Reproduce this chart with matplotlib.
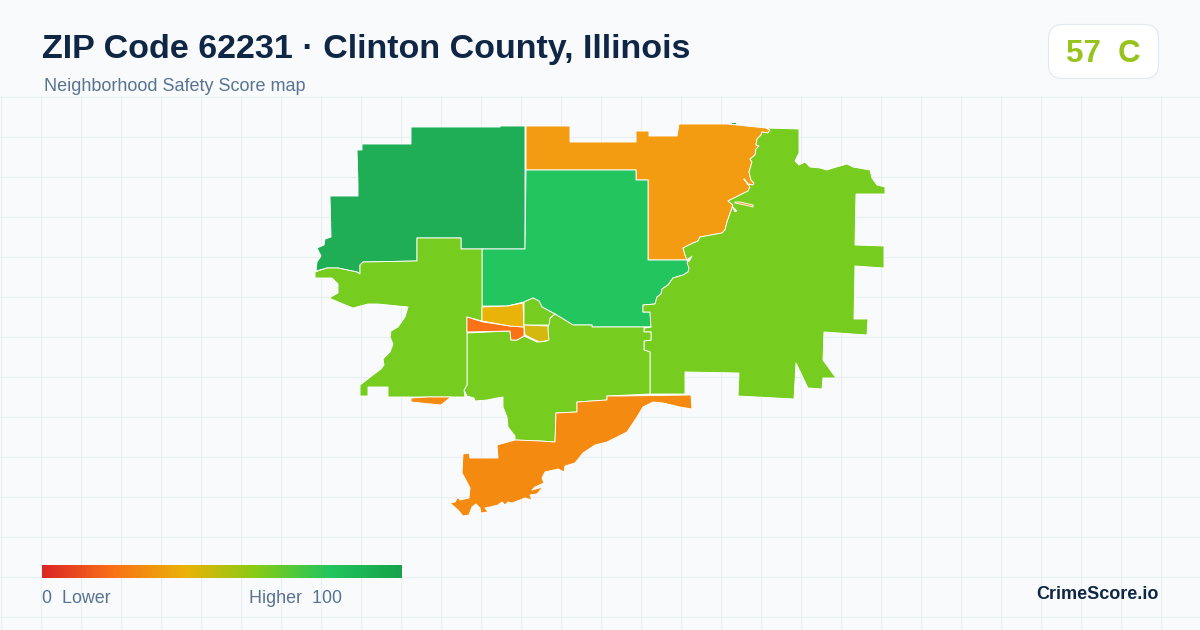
import numpy as np
import matplotlib
matplotlib.use("Agg")
import matplotlib.pyplot as plt
from matplotlib.colors import LinearSegmentedColormap
from matplotlib.patches import FancyBboxPatch, Polygon

plt.rcParams["font.family"] = ["Liberation Sans", "DejaVu Sans"]

title = "ZIP Code 62231 · Clinton County, Illinois"
subtitle = "Neighborhood Safety Score map"
badge = "57  C"
brand = "CrimeScore.io"

# shared borders (pixel coords)
river = [(766,128),(770,130),(768,133),(762,132),(761,135),(757,139),(756,145),(759,146),(756,149),(755,155),
    (750,159),(752,162),(749,172),(751,180),(754,183),(753,185),(748,184),(744,179),(750,187),(748,191),
    (728,201),(733,205),(727,222),(725,230),(722,233),(700,237),(698,241),(693,243),(683,248),(685,255),(687,260)]
creek = [(692,256),(690,260),(687,263),(689,268),(688,272),(683,275),(673,278),(668,285),(662,289),(661,294),
    (657,297),(655,304),(643,305),(643,312),(650,312),(651,327)]
town_edge = [(555,314),(542,307),(539,301),(533,298),(524,302)]
south_coast = [(691,395),(692,409),(680,407),(663,403),(653,402),(643,407),(637,417),(627,432),(607,442),(595,445),
    (583,453),(575,463),(565,466),(564,472),(558,469),(545,472),(542,478),(544,483),(535,487),(532,490),(543,487),
    (537,494),(530,495),(532,500),(525,498),(520,500),(512,503),(508,502),(505,505),(502,502),(498,505),(490,507),
    (485,508),(488,512),(481,513),(480,508),(476,504),(472,507),(469,515),(463,516),(458,510),(450,503),(455,502),
    (458,497),(460,500),(469,498),(470,488),(467,482),(462,473),(463,454),(469,453),(470,458),(498,458),(497,445)]

north_west = [(411,127),(500,127),(500,126),(525,126),(525,249),(461,249),(461,238),(417,238),(417,261),
    (363,262),(360,265),(360,274),(357,272),(338,268),(327,268),(316,271),(317,262),(321,256),(317,248),(324,245),
    (325,239),(331,237),(330,196),(358,196),(358,184),(357,150),(362,150),(362,144),(411,144)]
north_east = [(526,126),(570,126),(570,142),(636,142),(636,131),(649,131),(649,136),(677,136),(679,124),
    (727,124)] + river + [(648,260),(648,180),(636,180),(636,170),(526,170)]
central = [(526,170),(636,170),(636,180),(648,180),(648,260),(687,260)] + creek[3:] + [(592,327),(592,325),(573,325)] \
    + town_edge + [(507,306),(482,306),(482,249),(525,249)]
east = [(766,128),(799,129),(799,153),(795,161),(799,165),(805,162),(810,167),(820,168),(827,170),(833,168),
    (847,164),(853,167),(870,170),(872,178),(877,185),(885,187),(885,194),(856,194),(855,245),(884,246),
    (884,268),(855,266),(854,319),(868,319),(867,335),(824,332),(823,360),(836,378),(823,378),(822,389),
    (808,388),(796,363),(794,399),(738,396),(739,373),(685,372),(685,394),(650,394),(650,352),(644,350),(644,341),
    (651,340),(651,332),(644,332),(644,328),(651,327)] + creek[::-1][1:] + [(692,256)] + river[::-1][:-1]
south_mid = [(467,333),(510,331),(511,340),(517,340),(524,336),(537,342),(547,341),(548,327),(550,318),
    (555,314),(573,325),(592,325),(592,327),(651,327),(644,328),(644,332),(651,332),(651,340),(644,341),(644,350),
    (650,352),(650,394),(607,396),(607,400),(577,402),(577,412),(556,413),(555,442),(540,441),(515,440),(515,436),
    (508,427),(507,417),(503,407),(503,397),(497,398),(487,400),(475,401),(474,398),(467,396),(464,390),(467,385)]
west = [(315,272),(327,268),(338,268),(357,272),(360,274),(360,265),(363,262),(417,261),(417,238),(461,238),(461,249),
    (482,249),(482,321),(467,317),(467,385),(464,390),(465,397),(388,397),(388,387),(368,387),(368,396),
    (360,396),(360,385),(373,375),(381,369),(384,365),(383,359),(390,352),(393,344),(390,337),(391,331),(398,327),
    (405,317),(408,307),(378,304),(368,304),(353,308),(343,304),(329,298),(338,293),(338,284),(332,278),(315,278)]
sliver = [(411,398),(428,397),(451,397),(441,405),(411,402)]
south = [(607,396),(620,396)] + south_coast + [(515,440),(540,441),(555,442),(556,413),(577,412),(577,402),(607,400)]
town_red = [(467,317),(483,322),(510,326),(524,327),(524,336),(517,340),(511,340),(510,331),(467,332)]
town_amber = [(482,307),(508,306),(523,303),(524,327),(510,326),(482,321)]
town_green = [(524,302),(533,298),(539,301),(542,307),(555,314),(550,318),(549,325),(524,325)]
town_yellow = [(524,325),(548,326),(548,330),(549,340),(540,342),(535,340),(525,335)]
lake = [(735,202),(740,202),(753,205),(753,207),(745,205),(735,203)]
spur = [(732,206),(737,211),(735,212)]
speck = [(732,123),(736,123),(736,124),(732,124)]

zones = [north_west, north_east, central, east, south_mid, west, sliver, south,
         town_red, town_amber, town_green, town_yellow]
zone_colors = ["#1fae55", "#f39c12", "#22c55e", "#76cc1f", "#76cc1f", "#76cc1f", "#f58a10", "#f58a10",
               "#f97316", "#eab308", "#76cc1f", "#d4b80f"]

ramp_stops = [0, 0.2, 0.4, 0.6, 0.8, 1]
ramp_colors = ["#dc2626", "#f97316", "#eab308", "#84cc16", "#22c55e", "#16a34a"]

fig = plt.figure(figsize=(12, 6.3), dpi=100, facecolor="#f8fafc")
ax = fig.add_axes([0, 0, 1, 1])
ax.axis("off")

# grid
for x in range(0, 1200, 40):
    ax.plot([x + 0.5, x + 0.5], [96, 630], color="#e6eff2", lw=0.75, zorder=1)
for y in range(96, 630, 40):
    ax.plot([0, 1200], [y + 0.5, y + 0.5], color="#e6eff2", lw=0.75, zorder=1)

for pts, c in zip(zones, zone_colors):
    ax.add_patch(Polygon(pts, closed=True, facecolor=c, edgecolor="white", lw=0.65, joinstyle="round", zorder=2))
ax.add_patch(Polygon(lake, closed=True, facecolor="#f39c12", edgecolor="white", lw=0.65, joinstyle="round", zorder=3))
ax.add_patch(Polygon(spur, closed=True, facecolor="white", edgecolor="white", lw=0.5, zorder=3))
ax.add_patch(Polygon(speck, closed=True, facecolor="#1fae55", edgecolor="none", zorder=3))

ax.text(42, 58, title, fontsize=24.5, fontweight="bold", color="#0f2744", va="baseline")
ax.text(44, 91, subtitle, fontsize=12.95, color="#5a7391", va="baseline")

ax.add_patch(FancyBboxPatch((1048.5, 24.5), 110, 54, boxstyle="round,pad=0,rounding_size=14",
                            facecolor="white", edgecolor="#e2e8f0", lw=0.8, zorder=4))
ax.text(1103, 62, badge, fontsize=22.5, fontweight="bold", color="#97c41c", ha="center", va="baseline", zorder=5)

cmap = LinearSegmentedColormap.from_list("score", list(zip(ramp_stops, ramp_colors)))
ax.imshow(np.linspace(0, 1, 360)[None, :], cmap=cmap, extent=(42, 402, 578, 565), aspect="auto", zorder=3)
ax.set_xlim(0, 1200)
ax.set_ylim(630, 0)

ax.text(42, 603, "0  Lower", fontsize=12.9, color="#5a7391", va="baseline")
ax.text(342, 603, "Higher  100", fontsize=12.9, color="#5a7391", ha="right", va="baseline")
ax.text(1158.5, 599, brand, fontsize=13, fontweight="bold", color="#0f2744", ha="right", va="baseline")

fig.savefig("out.png", dpi=100, facecolor=fig.get_facecolor())
